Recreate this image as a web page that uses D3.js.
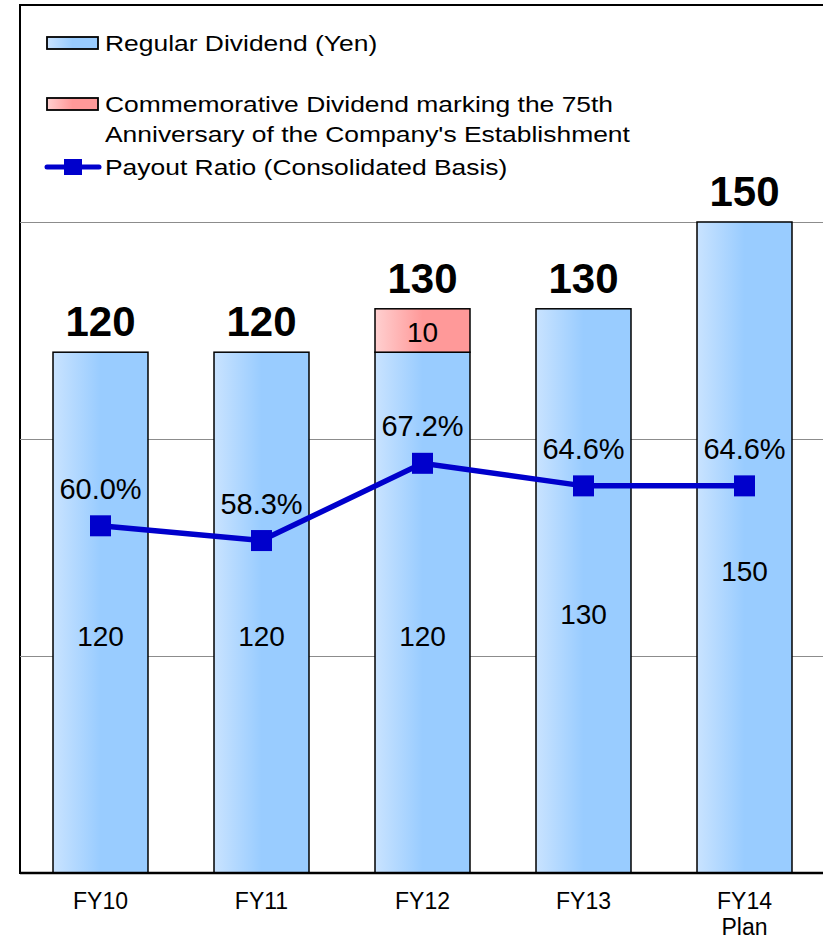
<!DOCTYPE html>
<html>
<head>
<meta charset="utf-8">
<script src="https://cdn.jsdelivr.net/npm/d3@7"></script>
<style>
  html, body { margin: 0; padding: 0; background: #fff; }
  svg { display: block; font-family: "Liberation Sans", Arial, sans-serif; }
</style>
</head>
<body>
<svg id="chart" width="823" height="939"></svg>
<script>
// Dividend data by fiscal year
const categories = ["FY10", "FY11", "FY12", "FY13", "FY14\nPlan"];
const regularDividend = [120, 120, 120, 130, 150];
const commemorativeDividend = [0, 0, 10, 0, 0];
const totalDividend = [120, 120, 130, 130, 150];
const payoutRatio = [60.0, 58.3, 67.2, 64.6, 64.6];
const gridTicks = [50, 100, 150];

const svg = d3.select("#chart");
const W = 823, H = 939;
const plot = { left: 20, top: 5, right: 825, bottom: 873 };

const x = d3.scaleBand().domain(categories).range([plot.left, plot.right]).paddingInner(0.41).paddingOuter(0.205);
const y = d3.scaleLinear().domain([0, 200]).range([plot.bottom, plot.top]);
const y2 = d3.scaleLinear().domain([20, 120]).range([plot.bottom, plot.top]);
const cx = i => x(categories[i]) + x.bandwidth() / 2;

// Gradients for bars
const defs = svg.append("defs");
function grad(id, c1, c2) {
  const g = defs.append("linearGradient").attr("id", id).attr("x1", "0%").attr("x2", "100%").attr("y1", "0%").attr("y2", "0%");
  g.append("stop").attr("offset", "0%").attr("stop-color", c1);
  g.append("stop").attr("offset", "50%").attr("stop-color", c2);
  g.append("stop").attr("offset", "100%").attr("stop-color", c2);
}
grad("gBlue", "#c9e3ff", "#99ccff");
grad("gRed", "#ffd0d0", "#ff9999");

// Plot frame and gridlines
svg.append("rect").attr("x", plot.left).attr("y", plot.top)
  .attr("width", W + 10 - plot.left).attr("height", plot.bottom - plot.top)
  .attr("fill", "#fff").attr("stroke", "#000").attr("stroke-width", 2);

svg.append("g").selectAll("line").data(gridTicks).join("line")
  .attr("x1", plot.left).attr("x2", W)
  .attr("y1", d => Math.round(y(d)) + 0.5).attr("y2", d => Math.round(y(d)) + 0.5)
  .attr("stroke", "#8c8c8c").attr("stroke-width", 1.2);

// Regular dividend bars
svg.append("g").selectAll("rect").data(regularDividend).join("rect")
  .attr("x", (d, i) => x(categories[i]))
  .attr("y", d => y(d))
  .attr("width", x.bandwidth())
  .attr("height", d => y(0) - y(d))
  .attr("fill", "url(#gBlue)").attr("stroke", "#000").attr("stroke-width", 1.5);

// Commemorative dividend segment stacked on top
const extra = commemorativeDividend.map((v, i) => ({ v, i })).filter(d => d.v > 0);
svg.append("g").selectAll("rect").data(extra).join("rect")
  .attr("x", d => x(categories[d.i]))
  .attr("y", d => y(regularDividend[d.i] + d.v))
  .attr("width", x.bandwidth())
  .attr("height", d => y(regularDividend[d.i]) - y(regularDividend[d.i] + d.v))
  .attr("fill", "url(#gRed)").attr("stroke", "#000").attr("stroke-width", 1.5);

svg.append("g").selectAll("text").data(extra).join("text")
  .attr("x", d => cx(d.i))
  .attr("y", d => (y(regularDividend[d.i]) + y(regularDividend[d.i] + d.v)) / 2 + 11)
  .attr("text-anchor", "middle").attr("font-size", 28).attr("fill", "#000")
  .text(d => d.v);

// Bottom axis line
svg.append("line").attr("x1", plot.left).attr("x2", W).attr("y1", plot.bottom).attr("y2", plot.bottom)
  .attr("stroke", "#000").attr("stroke-width", 2.5);

// Regular dividend value inside bars
svg.append("g").selectAll("text").data(regularDividend).join("text")
  .attr("x", (d, i) => cx(i))
  .attr("y", d => (y(d) + y(0)) / 2 + 33)
  .attr("text-anchor", "middle").attr("font-size", 28).attr("fill", "#000")
  .text(d => d);

// Total dividend labels
svg.append("g").selectAll("text").data(totalDividend).join("text")
  .attr("x", (d, i) => cx(i))
  .attr("y", d => y(d) - 16)
  .attr("text-anchor", "middle").attr("font-size", 42).attr("font-weight", "bold").attr("fill", "#000")
  .text(d => d);

// Payout ratio line
const lineGen = d3.line().x((d, i) => cx(i)).y(d => y2(d));
svg.append("path").datum(payoutRatio).attr("d", lineGen)
  .attr("fill", "none").attr("stroke", "#0000cc").attr("stroke-width", 5.5);
svg.append("g").selectAll("rect").data(payoutRatio).join("rect")
  .attr("x", (d, i) => cx(i) - 10.5)
  .attr("y", d => y2(d) - 10.5)
  .attr("width", 21).attr("height", 21).attr("fill", "#0000cc");
svg.append("g").selectAll("text").data(payoutRatio).join("text")
  .attr("x", (d, i) => cx(i))
  .attr("y", d => y2(d) - 27)
  .attr("text-anchor", "middle").attr("font-size", 29).attr("fill", "#000")
  .text(d => d.toFixed(1) + "%");

// Category labels
const cat = svg.append("g").selectAll("text").data(categories).join("text")
  .attr("x", d => x(d) + x.bandwidth() / 2)
  .attr("y", 909)
  .attr("text-anchor", "middle").attr("font-size", 23).attr("fill", "#000");
cat.each(function(d) {
  const t = d3.select(this);
  d.split("\n").forEach((p, k) => {
    t.append("tspan").attr("x", x(d) + x.bandwidth() / 2).attr("dy", k === 0 ? 0 : 26).text(p);
  });
});

// Legend
const legend = svg.append("g").attr("fill", "#000");
const legendItems = [
  { type: "bar", fill: "url(#gBlue)", y: 43, lines: ["Regular Dividend (Yen)"] },
  { type: "bar", fill: "url(#gRed)", y: 104, lines: ["Commemorative Dividend marking the 75th", "Anniversary of the Company's Establishment"] },
  { type: "line", y: 167, lines: ["Payout Ratio (Consolidated Basis)"] }
];
legendItems.forEach(it => {
  if (it.type === "bar") {
    legend.append("rect").attr("x", 47).attr("y", it.y - 6).attr("width", 51).attr("height", 12)
      .attr("fill", it.fill).attr("stroke", "#000").attr("stroke-width", 1.8);
  } else {
    legend.append("line").attr("x1", 47).attr("x2", 99).attr("y1", it.y).attr("y2", it.y)
      .attr("stroke", "#0000cc").attr("stroke-width", 5).attr("stroke-linecap", "round");
    legend.append("rect").attr("x", 64).attr("y", it.y - 8).attr("width", 18).attr("height", 16).attr("fill", "#0000cc");
  }
  it.lines.forEach((l, k) => {
    legend.append("text")
      .attr("transform", `translate(105,${it.y + 8 + k * 30}) scale(1.175,1)`)
      .attr("font-size", 22.5)
      .text(l);
  });
});
</script>
</body>
</html>
